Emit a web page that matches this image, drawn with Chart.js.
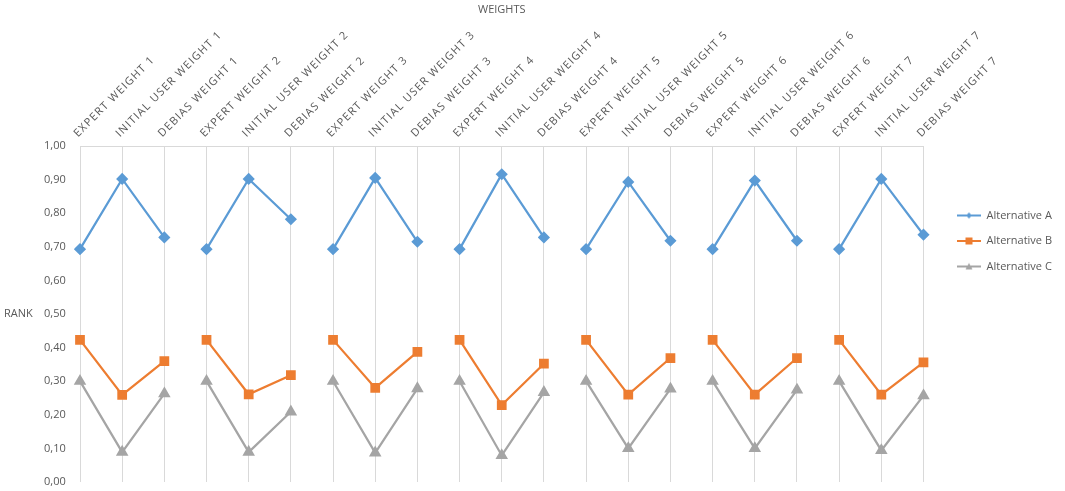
<!DOCTYPE html>
<html>
<head>
<meta charset="utf-8">
<script src="https://cdn.jsdelivr.net/npm/chart.js@4/dist/chart.umd.min.js"></script>
<style>
  html, body { margin: 0; padding: 0; background: #fff; overflow: hidden; }
</style>
</head>
<body>
<canvas id="myChart" width="1065" height="491"></canvas>
<script>
var weightLabels = [
  "EXPERT WEIGHT 1", "INITIAL USER WEIGHT 1", "DEBIAS WEIGHT 1",
  "EXPERT WEIGHT 2", "INITIAL USER WEIGHT 2", "DEBIAS WEIGHT 2",
  "EXPERT WEIGHT 3", "INITIAL USER WEIGHT 3", "DEBIAS WEIGHT 3",
  "EXPERT WEIGHT 4", "INITIAL USER WEIGHT 4", "DEBIAS WEIGHT 4",
  "EXPERT WEIGHT 5", "INITIAL USER WEIGHT 5", "DEBIAS WEIGHT 5",
  "EXPERT WEIGHT 6", "INITIAL USER WEIGHT 6", "DEBIAS WEIGHT 6",
  "EXPERT WEIGHT 7", "INITIAL USER WEIGHT 7", "DEBIAS WEIGHT 7",
];

var alternativeA = [
  0.693, 0.902, 0.728,
  0.693, 0.902, 0.782,
  0.693, 0.905, 0.715,
  0.693, 0.916, 0.728,
  0.693, 0.893, 0.718,
  0.693, 0.897, 0.718,
  0.693, 0.902, 0.736,
];

var alternativeB = [
  0.423, 0.259, 0.360,
  0.423, 0.261, 0.318,
  0.423, 0.280, 0.387,
  0.423, 0.229, 0.352,
  0.423, 0.260, 0.369,
  0.423, 0.260, 0.369,
  0.423, 0.260, 0.356,
];

var alternativeC = [
  0.300, 0.089, 0.263,
  0.300, 0.089, 0.209,
  0.300, 0.087, 0.278,
  0.300, 0.079, 0.267,
  0.300, 0.100, 0.277,
  0.300, 0.100, 0.274,
  0.300, 0.094, 0.257,
];

var seriesNames = ["Alternative A", "Alternative B", "Alternative C"];
var textColor = "#595959";
var gridColor = "#d9d9d9";
var LABEL_SPACING = "1.2px";

// category scale whose tick labels are drawn with extra letter spacing
class SpacedCategoryScale extends Chart.CategoryScale {
  _getLabelSizes() {
    this.ctx.save();
    this.ctx.letterSpacing = LABEL_SPACING;
    const sizes = super._getLabelSizes();
    this.ctx.restore();
    return sizes;
  }
  drawLabels(area) {
    this.ctx.save();
    this.ctx.letterSpacing = LABEL_SPACING;
    super.drawLabels(area);
    this.ctx.restore();
  }
}
SpacedCategoryScale.id = "spacedCategory";
SpacedCategoryScale.defaults = Chart.CategoryScale.defaults;
Chart.register(SpacedCategoryScale);

// legend icon: short line with the series marker in the middle
const makeIcon = (color, marker) => {
  var margin = 19;
  var len = 24;
  var c = document.createElement("canvas");
  c.width = margin + len;
  c.height = 12;
  var g = c.getContext("2d");
  g.strokeStyle = color;
  g.fillStyle = color;
  g.lineWidth = 2;
  g.beginPath();
  g.moveTo(margin, 6);
  g.lineTo(margin + len, 6);
  g.stroke();
  var cx = margin + len / 2;
  g.beginPath();
  if (marker == "diamond") {
    g.moveTo(cx, 3);
    g.lineTo(cx + 3, 6);
    g.lineTo(cx, 9);
    g.lineTo(cx - 3, 6);
  } else if (marker == "square") {
    g.rect(cx - 3.5, 2.5, 7, 7);
  } else {
    g.moveTo(cx, 2.5);
    g.lineTo(cx + 3.5, 9);
    g.lineTo(cx - 3.5, 9);
  }
  g.closePath();
  g.fill();
  return c;
};

var legendIcons = [
  makeIcon("#5b9bd5", "diamond"),
  makeIcon("#ed7d31", "square"),
  makeIcon("#a5a5a5", "triangle"),
];

// hide the segment joining one group of three to the next
const groupGap = (ctx) => (ctx.p0DataIndex % 3 === 2 ? "transparent" : undefined);

// horizontal axis name on the left, next to the tick labels
const rankLabel = {
  id: "rankLabel",
  afterDraw(chart) {
    var ctx = chart.ctx;
    var area = chart.chartArea;
    ctx.save();
    ctx.font = "11px 'Open Sans'";
    ctx.fillStyle = textColor;
    ctx.textAlign = "left";
    ctx.textBaseline = "middle";
    ctx.fillText("RANK", 4, (area.top + area.bottom) / 2);
    ctx.restore();
  },
};

var ctx = document.getElementById("myChart").getContext("2d");
let chart = new Chart(ctx, {
  type: "line",
  data: {
    labels: weightLabels,
    datasets: [
      {
        label: seriesNames[0],
        data: alternativeA,
        borderColor: "#5b9bd5",
        backgroundColor: "#5b9bd5",
        borderWidth: 2.25,
        pointStyle: "rectRot",
        pointRadius: 4.5,
        pointHoverRadius: 4.5,
        segment: { borderColor: groupGap },
        fill: false,
      },
      {
        label: seriesNames[1],
        data: alternativeB,
        borderColor: "#ed7d31",
        backgroundColor: "#ed7d31",
        borderWidth: 2.25,
        pointStyle: "rect",
        pointRadius: 5.3,
        pointHoverRadius: 5.3,
        segment: { borderColor: groupGap },
        fill: false,
      },
      {
        label: seriesNames[2],
        data: alternativeC,
        borderColor: "#a5a5a5",
        backgroundColor: "#a5a5a5",
        borderWidth: 2.25,
        pointStyle: "triangle",
        pointRadius: 5,
        pointHoverRadius: 5,
        segment: { borderColor: groupGap },
        fill: false,
      },
    ],
  },
  options: {
    responsive: false,
    animation: false,
    layout: { padding: { left: 44, right: 3, top: 0, bottom: 9 } },
    plugins: {
      tooltip: { enabled: false },
      legend: {
        position: "right",
        labels: {
          usePointStyle: true,
          pointStyleWidth: 43,
          padding: 14.5,
          color: textColor,
          font: { family: "'Open Sans'", size: 11 },
          generateLabels: (c) => {
            var items = Chart.defaults.plugins.legend.labels.generateLabels(c);
            items.forEach((it, i) => {
              it.pointStyle = legendIcons[i];
            });
            return items;
          },
        },
      },
    },
    scales: {
      x: {
        type: "spacedCategory",
        position: "top",
        offset: false,
        afterFit: (scale) => {
          scale.height = 146;
        },
        title: {
          display: true,
          text: "WEIGHTS",
          color: textColor,
          font: { family: "'Open Sans'", size: 11 },
          padding: { top: 3, bottom: 0 },
        },
        ticks: {
          autoSkip: false,
          minRotation: 45,
          maxRotation: 45,
          padding: 6,
          labelOffset: 5,
          color: textColor,
          font: { family: "'Open Sans'", size: 11 },
        },
        grid: { color: gridColor, lineWidth: 1, drawTicks: false },
        border: { display: true, color: gridColor },
      },
      y: {
        min: 0,
        max: 1,
        afterFit: (scale) => {
          scale.width = 36;
        },
        ticks: {
          stepSize: 0.1,
          padding: 0,
          crossAlign: "far",
          color: textColor,
          font: { family: "'Open Sans'", size: 11 },
          callback: (v) => v.toFixed(2).replace(".", ","),
        },
        grid: { display: false, drawTicks: false },
        border: { display: false },
      },
    },
  },
  plugins: [rankLabel],
});
</script>
</body>
</html>
